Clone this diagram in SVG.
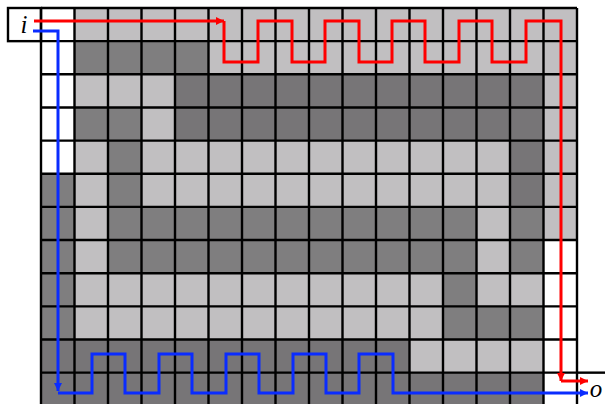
<svg xmlns="http://www.w3.org/2000/svg" width="605" height="404" viewBox="0 0 605 404">
<style>
.L{fill:#c1bfc1}
.M{fill:#7f7e7f}
.D{fill:#777577}
.grid{stroke:#000;stroke-width:2.4;fill:none}
.lbl{font-family:"Liberation Serif","DejaVu Serif",serif;font-style:italic;font-size:25px;fill:#000}
.red{stroke:#ff0000;stroke-width:3;fill:none}
.blue{stroke:#0a2cff;stroke-width:3;fill:none}
</style>
<defs>
<marker id="ar" markerUnits="userSpaceOnUse" markerWidth="9" markerHeight="9" refX="8" refY="4" orient="auto"><path d="M0,0 L8,4 L0,8 z" fill="#ff0000"/></marker>
<marker id="ab" markerUnits="userSpaceOnUse" markerWidth="9" markerHeight="9" refX="8" refY="4" orient="auto"><path d="M0,0 L8,4 L0,8 z" fill="#0a2cff"/></marker>
</defs>
<rect width="605" height="404" fill="#fff"/>
<g id="cells">
<rect class="L" x="74.5" y="8" width="502.5" height="33.15"/>
<rect class="M" x="74.5" y="41.15" width="134" height="33.15"/>
<rect class="L" x="208.5" y="41.15" width="368.5" height="33.15"/>
<rect class="L" x="74.5" y="74.3" width="100.5" height="33.15"/>
<rect class="D" x="175" y="74.3" width="368.5" height="33.15"/>
<rect class="L" x="543.5" y="74.3" width="33.5" height="33.15"/>
<rect class="M" x="74.5" y="107.45" width="67" height="33.15"/>
<rect class="L" x="141.5" y="107.45" width="33.5" height="33.15"/>
<rect class="D" x="175" y="107.45" width="368.5" height="33.15"/>
<rect class="L" x="543.5" y="107.45" width="33.5" height="33.15"/>
<rect class="L" x="74.5" y="140.6" width="33.5" height="33.15"/>
<rect class="M" x="108" y="140.6" width="33.5" height="33.15"/>
<rect class="L" x="141.5" y="140.6" width="368.5" height="33.15"/>
<rect class="D" x="510" y="140.6" width="33.5" height="33.15"/>
<rect class="L" x="543.5" y="140.6" width="33.5" height="33.15"/>
<rect class="M" x="41" y="173.75" width="33.5" height="33.15"/>
<rect class="L" x="74.5" y="173.75" width="33.5" height="33.15"/>
<rect class="M" x="108" y="173.75" width="33.5" height="33.15"/>
<rect class="L" x="141.5" y="173.75" width="368.5" height="33.15"/>
<rect class="D" x="510" y="173.75" width="33.5" height="33.15"/>
<rect class="L" x="543.5" y="173.75" width="33.5" height="33.15"/>
<rect class="M" x="41" y="206.9" width="33.5" height="66.3"/>
<rect class="L" x="74.5" y="206.9" width="33.5" height="66.3"/>
<rect class="M" x="108" y="206.9" width="368.5" height="66.3"/>
<rect class="L" x="476.5" y="206.9" width="33.5" height="66.3"/>
<rect class="M" x="510" y="206.9" width="33.5" height="66.3"/>
<rect class="L" x="543.5" y="206.9" width="33.5" height="33.15"/>
<rect class="M" x="41" y="273.2" width="33.5" height="66.3"/>
<rect class="L" x="74.5" y="273.2" width="368.5" height="66.3"/>
<rect class="M" x="443" y="273.2" width="33.5" height="66.3"/>
<rect class="L" x="476.5" y="273.2" width="67" height="33.15"/>
<rect class="M" x="476.5" y="306.35" width="67" height="33.15"/>
<rect class="D" x="41" y="339.5" width="368.5" height="33.15"/>
<rect class="L" x="409.5" y="339.5" width="134" height="33.15"/>
<rect class="D" x="41" y="372.65" width="502.5" height="33.15"/>
</g>
<g id="grid">
<path class="grid" d="M41 8V404M74.5 8V404M108 8V404M141.5 8V404M175 8V404M208.5 8V404M242 8V404M275.5 8V404M309 8V404M342.5 8V404M376 8V404M409.5 8V404M443 8V404M476.5 8V404M510 8V404M543.5 8V404M577 8V404"/>
<path class="grid" d="M41 8H577M41 41.15H577M41 74.3H577M41 107.45H577M41 140.6H577M41 173.75H577M41 206.9H577M41 240.05H577M41 273.2H577M41 306.35H577M41 339.5H577M41 372.65H577"/>
</g>
<g id="input">
<rect class="grid" x="8" y="8" width="33" height="33.15"/>
<text class="lbl" x="24" y="33" text-anchor="middle">i</text>
</g>
<g id="output">
<path class="grid" d="M577 372.65H606"/>
<text class="lbl" x="596" y="397" text-anchor="middle">o</text>
</g>
<g id="connectors">
<path class="red" d="M34 21H224" marker-end="url(#ar)"/>
<path class="red" d="M224 21V62H258V21H292V62H325V21H359V62H392V21H425V62H459V21H492V62H526V21H561V381" marker-end="url(#ar)"/>
<path class="red" d="M561 381H588" marker-end="url(#ar)"/>
<path class="blue" d="M33 31H58V391" marker-end="url(#ab)"/>
<path class="blue" d="M58 393H92V354H125V393H159V354H192V393H226V354H259V393H293V354H326V393H359V354H393V393H588" marker-end="url(#ab)"/>
</g>
</svg>
